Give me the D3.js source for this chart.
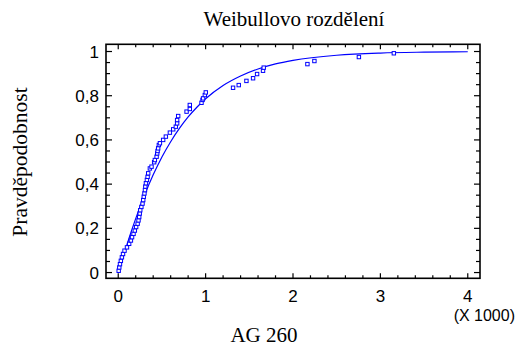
<!DOCTYPE html>
<html><head><meta charset="utf-8">
<script src="https://cdn.jsdelivr.net/npm/d3@7"></script>
<style>html,body{margin:0;padding:0;background:#fff;}svg{display:block;}</style>
</head><body>
<svg id="c" width="518" height="348"></svg>
<script>
// Empirical points (x in thousands, cumulative probability)
const pointX = [0.005,0.012,0.020,0.030,0.042,0.055,0.072,0.100,0.125,0.145,0.158,0.175,0.190,0.205,0.222,0.232,0.240,0.246,0.252,0.265,0.278,0.286,0.292,0.300,0.306,0.310,
 0.317,0.328,0.336,0.343,0.362,0.381,0.411,0.419,0.439,0.446,0.450,0.457,0.465,0.477,0.514,0.545,0.591,0.629,0.659,0.674,0.674,0.686,0.782,0.819,0.819,0.953,0.965,0.971,0.991,1.002,
 1.314,1.379,1.467,1.543,1.589,1.657,1.665,2.165,2.245,2.754,3.154];
const pointY = [0.008,0.023,0.038,0.053,0.069,0.084,0.099,0.114,0.130,0.145,0.160,0.175,0.190,0.206,0.221,0.236,0.251,0.267,0.282,0.297,0.312,0.328,0.343,0.358,0.373,0.389,
 0.404,0.419,0.433,0.449,0.471,0.479,0.499,0.509,0.524,0.539,0.550,0.562,0.577,0.585,0.600,0.615,0.633,0.648,0.660,0.675,0.690,0.708,0.728,0.740,0.758,0.768,0.781,0.788,0.803,0.815,
 0.836,0.848,0.867,0.879,0.898,0.913,0.927,0.943,0.957,0.975,0.992];
// Fitted Weibull curve
const curveX = [0,0.05,0.1,0.15,0.2,0.3,0.4,0.5,0.6,0.7,0.8,0.9,1.0,1.2,1.4,1.6,1.8,2.0,2.5,3.0,3.5,4.0];
const curveY = [0,0.062,0.126,0.187,0.244,0.349,0.442,0.523,0.592,0.652,0.704,0.748,0.786,0.846,0.889,0.921,0.944,0.960,0.983,0.993,0.997,0.999];
const xTicks = [0,1,2,3,4];
const xTickLabels = ["0","1","2","3","4"];
const yTicks = [0,0.2,0.4,0.6,0.8,1];
const yTickLabels = ["0","0,2","0,4","0,6","0,8","1"];
const titleText = "Weibullovo rozdělení";
const xLabel = "AG 260";
const yLabel = "Pravděpodobnost";
const xScaleNote = "(X 1000)";

const svg = d3.select("#c");
const L = 106, R = 480, T = 44.3, B = 278.3;
const x = d3.scaleLinear().domain([-0.14, 4.14]).range([L, R]);
const y = d3.scaleLinear().domain([-0.026, 1.0326]).range([B, T]);
const blue = "#0000ff";
const serif = "'Liberation Serif','Times New Roman',serif";
const sans = "'Liberation Sans',Arial,sans-serif";

const xMinor = d3.range(0, 4.0001, 0.2).filter(v => Math.abs(v - Math.round(v)) > 1e-6);
const yMinor = d3.range(0, 1.0001, 0.05).filter(v => Math.abs(v*5 - Math.round(v*5)) > 1e-6);

const axisG = svg.append("g").attr("stroke", "#000").attr("stroke-width", 1.2);
function vTicks(vals, len) {
  vals.forEach(v => {
    axisG.append("line").attr("x1", x(v)).attr("x2", x(v)).attr("y1", B).attr("y2", B - len);
    axisG.append("line").attr("x1", x(v)).attr("x2", x(v)).attr("y1", T).attr("y2", T + len);
  });
}
function hTicks(vals, len) {
  vals.forEach(v => {
    axisG.append("line").attr("y1", y(v)).attr("y2", y(v)).attr("x1", L).attr("x2", L + len);
    axisG.append("line").attr("y1", y(v)).attr("y2", y(v)).attr("x1", R).attr("x2", R - len);
  });
}
vTicks(xTicks, 5); vTicks(xMinor, 3);
hTicks(yTicks, 6); hTicks(yMinor, 4);

svg.append("rect").attr("x", L).attr("y", T).attr("width", R - L).attr("height", B - T)
  .attr("fill", "none").attr("stroke", "#000").attr("stroke-width", 1.6);

svg.append("g").selectAll("text").data(xTicks).join("text")
  .attr("x", d => x(d)).attr("y", 302).attr("text-anchor", "middle")
  .attr("font-family", sans).attr("font-size", 17).attr("fill", "#000")
  .text((d, i) => xTickLabels[i]);
svg.append("g").selectAll("text").data(yTicks).join("text")
  .attr("x", 99).attr("y", d => y(d)).attr("dy", "0.36em").attr("text-anchor", "end")
  .attr("font-family", sans).attr("font-size", 17).attr("fill", "#000")
  .text((d, i) => yTickLabels[i]);
svg.append("text").attr("x", 515).attr("y", 320.5).attr("text-anchor", "end")
  .attr("font-family", sans).attr("font-size", 16).attr("fill", "#000").text(xScaleNote);

svg.append("text").attr("x", 294).attr("y", 26).attr("text-anchor", "middle")
  .attr("font-family", serif).attr("font-size", 21).attr("fill", "#000").text(titleText);
svg.append("text").attr("x", 264).attr("y", 342).attr("text-anchor", "middle")
  .attr("font-family", serif).attr("font-size", 21).attr("fill", "#000").text(xLabel);
svg.append("text").attr("transform", "translate(27,162) rotate(-90)").attr("text-anchor", "middle")
  .attr("font-family", serif).attr("font-size", 21.5).attr("fill", "#000").text(yLabel);

const line = d3.line().x(d => x(d[0])).y(d => y(d[1])).curve(d3.curveMonotoneX);
svg.append("path").datum(curveX.map((v, i) => [v, curveY[i]]))
  .attr("d", line).attr("fill", "none").attr("stroke", blue).attr("stroke-width", 1.2);

const s = 3.4;
svg.append("g").selectAll("rect").data(pointX.map((v, i) => [v, pointY[i]])).join("rect")
  .attr("x", d => x(d[0]) - s/2).attr("y", d => y(d[1]) - s/2)
  .attr("width", s).attr("height", s)
  .attr("fill", "#fff").attr("stroke", blue).attr("stroke-width", 1);
</script>
</body></html>
